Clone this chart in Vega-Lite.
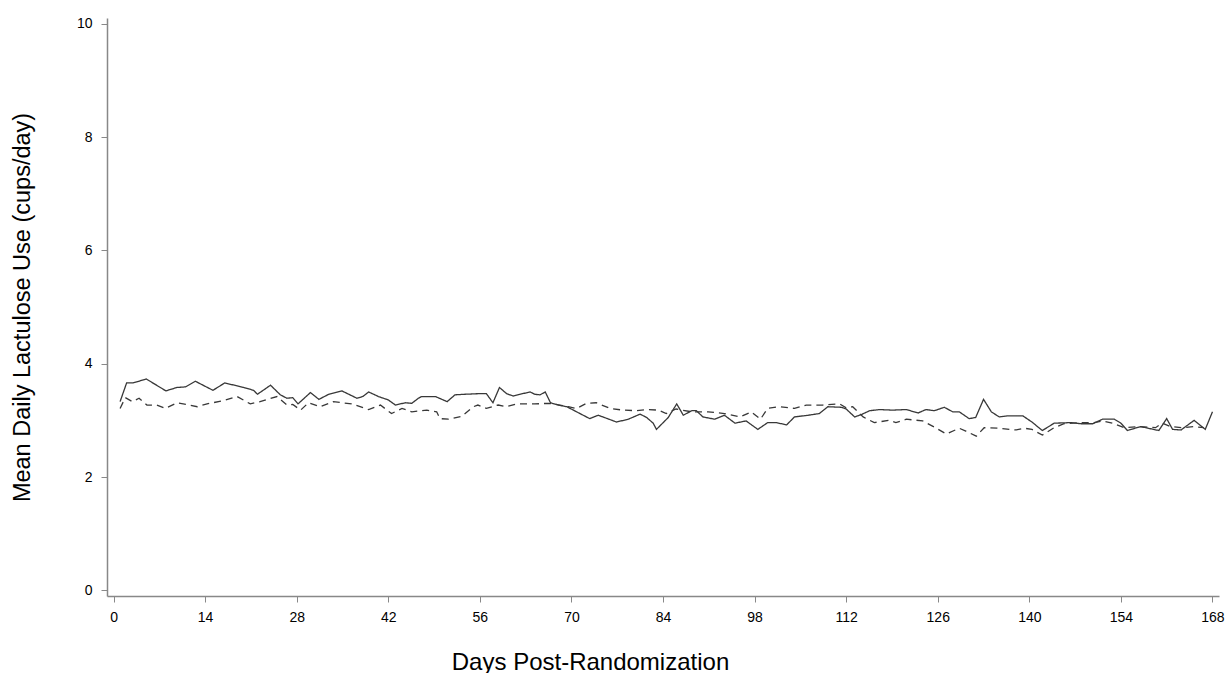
{
  "$schema": "https://vega.github.io/schema/vega-lite/v6.json",
  "width": 1112,
  "height": 578,
  "autosize": {"type": "none"},
  "padding": {"left": 107, "top": 18, "right": 12, "bottom": 77},
  "background": "white",
  "config": {"view": {"stroke": null}, "font": "Liberation Sans"},
  "data": {"values": [
    {"group":"A","day":1,"value":3.33},{"group":"A","day":2,"value":3.66},{"group":"A","day":3,"value":3.66},{"group":"A","day":5,"value":3.73},{"group":"A","day":8,"value":3.52},{"group":"A","day":9.7,"value":3.58},{"group":"A","day":11,"value":3.59},{"group":"A","day":12.5,"value":3.69},{"group":"A","day":15.2,"value":3.53},{"group":"A","day":17,"value":3.66},{"group":"A","day":19.9,"value":3.58},{"group":"A","day":21.4,"value":3.53},{"group":"A","day":22,"value":3.46},{"group":"A","day":24,"value":3.62},{"group":"A","day":25.5,"value":3.45},{"group":"A","day":26.5,"value":3.39},{"group":"A","day":27.4,"value":3.4},{"group":"A","day":28.2,"value":3.29},{"group":"A","day":30.1,"value":3.49},{"group":"A","day":31.4,"value":3.37},{"group":"A","day":32.9,"value":3.46},{"group":"A","day":34.9,"value":3.52},{"group":"A","day":37.2,"value":3.39},{"group":"A","day":38.1,"value":3.42},{"group":"A","day":39,"value":3.5},{"group":"A","day":40.5,"value":3.42},{"group":"A","day":42,"value":3.36},{"group":"A","day":43.1,"value":3.27},{"group":"A","day":44.6,"value":3.31},{"group":"A","day":45.6,"value":3.3},{"group":"A","day":46.6,"value":3.39},{"group":"A","day":47.1,"value":3.42},{"group":"A","day":49.2,"value":3.42},{"group":"A","day":51,"value":3.33},{"group":"A","day":52.2,"value":3.45},{"group":"A","day":53.7,"value":3.46},{"group":"A","day":55.7,"value":3.47},{"group":"A","day":57,"value":3.47},{"group":"A","day":58,"value":3.31},{"group":"A","day":59,"value":3.58},{"group":"A","day":60.1,"value":3.47},{"group":"A","day":61.1,"value":3.43},{"group":"A","day":62.1,"value":3.46},{"group":"A","day":63.7,"value":3.5},{"group":"A","day":64.4,"value":3.46},{"group":"A","day":65.2,"value":3.45},{"group":"A","day":66,"value":3.5},{"group":"A","day":66.8,"value":3.31},{"group":"A","day":68,"value":3.27},{"group":"A","day":69.3,"value":3.24},{"group":"A","day":70.8,"value":3.15},{"group":"A","day":72.8,"value":3.03},{"group":"A","day":74.1,"value":3.09},{"group":"A","day":76.9,"value":2.97},{"group":"A","day":78.7,"value":3.02},{"group":"A","day":80.5,"value":3.11},{"group":"A","day":81.5,"value":3.05},{"group":"A","day":82.5,"value":2.95},{"group":"A","day":83,"value":2.84},{"group":"A","day":84.8,"value":3.05},{"group":"A","day":86.1,"value":3.29},{"group":"A","day":87.1,"value":3.09},{"group":"A","day":88.4,"value":3.17},{"group":"A","day":89.1,"value":3.17},{"group":"A","day":90.1,"value":3.06},{"group":"A","day":91.9,"value":3.02},{"group":"A","day":93.4,"value":3.09},{"group":"A","day":95,"value":2.95},{"group":"A","day":96.7,"value":2.99},{"group":"A","day":98.5,"value":2.84},{"group":"A","day":100,"value":2.96},{"group":"A","day":101.3,"value":2.96},{"group":"A","day":102.9,"value":2.92},{"group":"A","day":104.1,"value":3.06},{"group":"A","day":106.2,"value":3.09},{"group":"A","day":107.9,"value":3.12},{"group":"A","day":109.2,"value":3.24},{"group":"A","day":111.3,"value":3.23},{"group":"A","day":112,"value":3.2},{"group":"A","day":113.3,"value":3.06},{"group":"A","day":114.3,"value":3.1},{"group":"A","day":115.6,"value":3.17},{"group":"A","day":117.1,"value":3.19},{"group":"A","day":119.1,"value":3.18},{"group":"A","day":121.2,"value":3.19},{"group":"A","day":123,"value":3.13},{"group":"A","day":124.2,"value":3.19},{"group":"A","day":125.5,"value":3.17},{"group":"A","day":127,"value":3.23},{"group":"A","day":128.3,"value":3.15},{"group":"A","day":129.3,"value":3.15},{"group":"A","day":130.8,"value":3.03},{"group":"A","day":131.8,"value":3.05},{"group":"A","day":133,"value":3.37},{"group":"A","day":134.2,"value":3.15},{"group":"A","day":135.4,"value":3.06},{"group":"A","day":136.7,"value":3.08},{"group":"A","day":139,"value":3.08},{"group":"A","day":140.4,"value":2.97},{"group":"A","day":142,"value":2.82},{"group":"A","day":143.8,"value":2.95},{"group":"A","day":146.4,"value":2.96},{"group":"A","day":147.9,"value":2.94},{"group":"A","day":149.7,"value":2.94},{"group":"A","day":151.2,"value":3.02},{"group":"A","day":153,"value":3.02},{"group":"A","day":154,"value":2.95},{"group":"A","day":155,"value":2.82},{"group":"A","day":157,"value":2.89},{"group":"A","day":159.8,"value":2.82},{"group":"A","day":161,"value":3.03},{"group":"A","day":161.9,"value":2.84},{"group":"A","day":163.2,"value":2.83},{"group":"A","day":165.2,"value":3.0},{"group":"A","day":166.9,"value":2.84},{"group":"A","day":168,"value":3.15},
    {"group":"B","day":1,"value":3.21},{"group":"B","day":1.8,"value":3.4},{"group":"B","day":2.9,"value":3.33},{"group":"B","day":3.9,"value":3.39},{"group":"B","day":5.1,"value":3.27},{"group":"B","day":6.6,"value":3.27},{"group":"B","day":7.9,"value":3.21},{"group":"B","day":9.7,"value":3.31},{"group":"B","day":11.2,"value":3.28},{"group":"B","day":12.8,"value":3.24},{"group":"B","day":14.3,"value":3.29},{"group":"B","day":16.9,"value":3.35},{"group":"B","day":18.9,"value":3.42},{"group":"B","day":20.9,"value":3.29},{"group":"B","day":22.4,"value":3.33},{"group":"B","day":23.5,"value":3.37},{"group":"B","day":25,"value":3.42},{"group":"B","day":26.5,"value":3.27},{"group":"B","day":27.4,"value":3.28},{"group":"B","day":28.6,"value":3.18},{"group":"B","day":29.8,"value":3.31},{"group":"B","day":31.6,"value":3.24},{"group":"B","day":33.6,"value":3.33},{"group":"B","day":36.4,"value":3.29},{"group":"B","day":39,"value":3.19},{"group":"B","day":40.8,"value":3.27},{"group":"B","day":42.5,"value":3.12},{"group":"B","day":44.1,"value":3.21},{"group":"B","day":45.6,"value":3.15},{"group":"B","day":47.9,"value":3.18},{"group":"B","day":49.4,"value":3.15},{"group":"B","day":49.9,"value":3.03},{"group":"B","day":51.2,"value":3.02},{"group":"B","day":53.2,"value":3.07},{"group":"B","day":55,"value":3.24},{"group":"B","day":55.7,"value":3.27},{"group":"B","day":57,"value":3.21},{"group":"B","day":58.8,"value":3.27},{"group":"B","day":60,"value":3.24},{"group":"B","day":61.6,"value":3.29},{"group":"B","day":64.4,"value":3.29},{"group":"B","day":66.5,"value":3.3},{"group":"B","day":68.2,"value":3.27},{"group":"B","day":69.5,"value":3.24},{"group":"B","day":70.8,"value":3.21},{"group":"B","day":72.3,"value":3.3},{"group":"B","day":73.8,"value":3.31},{"group":"B","day":75.9,"value":3.21},{"group":"B","day":77.9,"value":3.18},{"group":"B","day":79.9,"value":3.17},{"group":"B","day":81.5,"value":3.19},{"group":"B","day":83.3,"value":3.18},{"group":"B","day":84.5,"value":3.12},{"group":"B","day":86,"value":3.2},{"group":"B","day":88.4,"value":3.15},{"group":"B","day":90.9,"value":3.15},{"group":"B","day":93.4,"value":3.12},{"group":"B","day":95.8,"value":3.06},{"group":"B","day":97.5,"value":3.15},{"group":"B","day":98.9,"value":3.02},{"group":"B","day":100,"value":3.21},{"group":"B","day":101.8,"value":3.24},{"group":"B","day":104.1,"value":3.21},{"group":"B","day":105.9,"value":3.27},{"group":"B","day":108.4,"value":3.27},{"group":"B","day":111,"value":3.29},{"group":"B","day":112,"value":3.22},{"group":"B","day":113,"value":3.24},{"group":"B","day":114.6,"value":3.06},{"group":"B","day":116.3,"value":2.96},{"group":"B","day":118.6,"value":3.0},{"group":"B","day":119.6,"value":2.96},{"group":"B","day":121.2,"value":3.02},{"group":"B","day":123.7,"value":2.99},{"group":"B","day":125.8,"value":2.86},{"group":"B","day":127.3,"value":2.76},{"group":"B","day":129.3,"value":2.86},{"group":"B","day":130.3,"value":2.81},{"group":"B","day":131.9,"value":2.72},{"group":"B","day":133.1,"value":2.87},{"group":"B","day":135.4,"value":2.86},{"group":"B","day":138,"value":2.83},{"group":"B","day":139.3,"value":2.86},{"group":"B","day":140.4,"value":2.84},{"group":"B","day":142,"value":2.74},{"group":"B","day":143.8,"value":2.87},{"group":"B","day":145.3,"value":2.94},{"group":"B","day":147.9,"value":2.96},{"group":"B","day":149.9,"value":2.96},{"group":"B","day":151.2,"value":2.99},{"group":"B","day":152.7,"value":2.95},{"group":"B","day":154.5,"value":2.87},{"group":"B","day":157,"value":2.89},{"group":"B","day":159.3,"value":2.87},{"group":"B","day":160.3,"value":2.95},{"group":"B","day":161.6,"value":2.89},{"group":"B","day":163.4,"value":2.87},{"group":"B","day":165.2,"value":2.89},{"group":"B","day":166.7,"value":2.87}
  ]},
  "mark": {"type": "line", "strokeWidth": 1.3, "color": "#383838"},
  "encoding": {
    "x": {
      "field": "day", "type": "quantitative",
      "scale": {"domain": [-1, 169], "nice": false, "zero": false},
      "axis": {
        "values": [0, 14, 28, 42, 56, 70, 84, 98, 112, 126, 140, 154, 168],
        "title": "Days Post-Randomization",
        "titleFontSize": 24, "titleFontWeight": "normal", "titleColor": "#000000",
        "titleX": 483, "titleY": 73, "titleBaseline": "alphabetic", "titleAlign": "center",
        "labelFontSize": 14, "labelColor": "#000000", "labelPadding": 8,
        "tickSize": 6, "tickColor": "#888888", "domainColor": "#888888", "domainWidth": 1.5,
        "grid": false, "labelFlush": false
      }
    },
    "y": {
      "field": "value", "type": "quantitative",
      "scale": {"domain": [-0.1, 10.1], "nice": false, "zero": false},
      "axis": {
        "values": [0, 2, 4, 6, 8, 10],
        "title": "Mean Daily Lactulose Use (cups/day)",
        "titleFontSize": 23.5, "titleFontWeight": "normal", "titleColor": "#000000",
        "titleX": -85, "titleY": 289, "titleAngle": -90, "titleBaseline": "middle", "titleAlign": "center",
        "labelFontSize": 14, "labelColor": "#000000", "labelPadding": 9,
        "tickSize": 6, "tickColor": "#888888", "domainColor": "#888888", "domainWidth": 1.5,
        "grid": false, "labelFlush": false
      }
    },
    "strokeDash": {
      "field": "group", "type": "nominal",
      "scale": {"domain": ["A", "B"], "range": [[1, 0], [7, 5]]},
      "legend": null
    }
  }
}
